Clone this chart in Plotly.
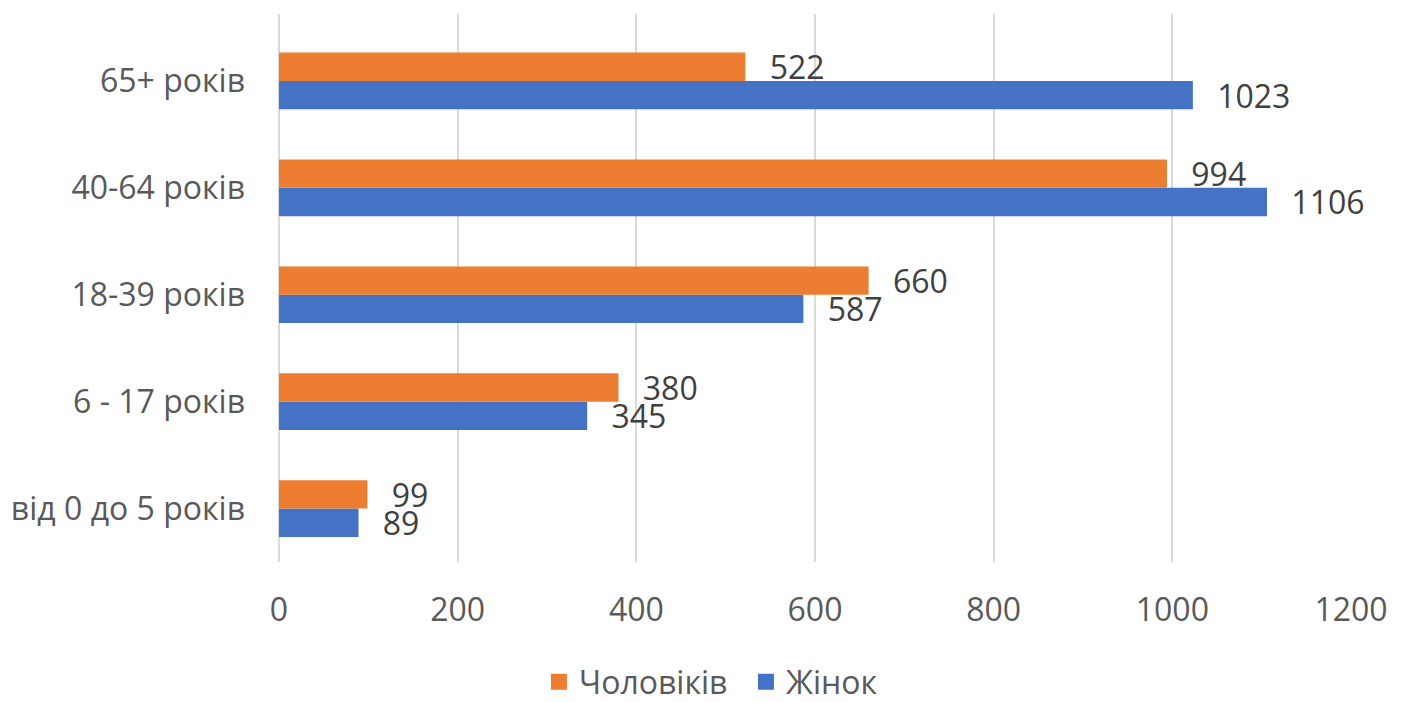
import plotly.graph_objects as go

categories = ["від 0 до 5 років", "6 - 17 років", "18-39 років", "40-64 років", "65+ років"]
men = [99, 380, 660, 994, 522]
women = [89, 345, 587, 1106, 1023]
x_ticks = [0, 200, 400, 600, 800, 1000, 1200]

FONT = "Open Sans"
SIZE = 32
PAD = "\u2002\u2009"
ORANGE = "#ED7D31"
BLUE = "#4472C4"

fig = go.Figure()
fig.add_trace(go.Bar(
    y=categories, x=women, orientation="h", name="Жінок", showlegend=False,
    marker=dict(color=BLUE, line=dict(width=0)),
    text=[PAD + str(v) for v in women], textposition="outside",
    constraintext="none", cliponaxis=False,
    textfont=dict(family=FONT, size=SIZE, color="#404040"),
))
fig.add_trace(go.Bar(
    y=categories, x=men, orientation="h", name="Чоловіків", showlegend=False,
    marker=dict(color=ORANGE, line=dict(width=0)),
    text=[PAD + str(v) for v in men], textposition="outside",
    constraintext="none", cliponaxis=False,
    textfont=dict(family=FONT, size=SIZE, color="#404040"),
))
# legend-only entries with larger square symbols
for name, col in [("Чоловіків", ORANGE), ("Жінок", BLUE)]:
    fig.add_trace(go.Scatter(
        x=[None], y=[None], mode="markers", name=name,
        marker=dict(symbol="square", size=19, color=col),
    ))

fig.update_layout(
    width=1406, height=702,
    margin=dict(l=279, r=55, t=14, b=140, autoexpand=False),
    barmode="group", bargap=0.47, bargroupgap=0,
    plot_bgcolor="white", paper_bgcolor="white",
    font=dict(family=FONT, size=SIZE, color="#595959"),
    xaxis=dict(range=[0, 1200], tickvals=x_ticks, showgrid=True, gridcolor="#D9D9D9",
               gridwidth=1.5, zeroline=True, zerolinecolor="#D9D9D9", zerolinewidth=1.5,
               ticks="", tickfont=dict(size=SIZE, color="#595959"), showline=False,
               ticklabelstandoff=26, automargin=False),
    yaxis=dict(type="category", categoryorder="array", categoryarray=categories,
               range=[-0.5, 4.626], showgrid=False, ticks="", showline=False,
               tickfont=dict(size=SIZE, color="#595959"), ticklabelstandoff=33,
               automargin=False),
    showlegend=True,
    legend=dict(orientation="h", x=0.2425, xanchor="left", y=-0.219, yanchor="middle",
                font=dict(size=SIZE, color="#595959"), itemwidth=30,
                entrywidth=162, entrywidthmode="pixels"),
)
fig.write_html(
    "out.html",
    config={"displayModeBar": False},
    post_script="document.body.style.margin='0';document.body.style.overflow='hidden';",
)
